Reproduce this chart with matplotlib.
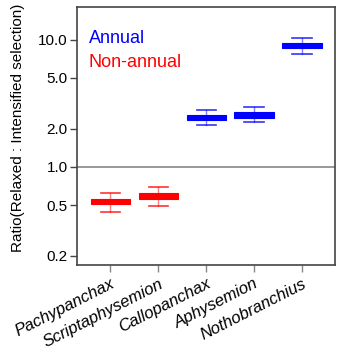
import matplotlib
matplotlib.use("Agg")
import matplotlib.pyplot as plt

plt.rcParams["font.family"] = ["Liberation Sans", "DejaVu Sans"]

genera = ["Pachypanchax", "Scriptaphysemion", "Callopanchax", "Aphysemion", "Nothobranchius"]
annual = [False, False, True, True, True]

# ratio summaries per genus
whisker_lo = [0.44, 0.493, 2.14, 2.25, 7.66]
box_lo = [0.508, 0.563, 2.33, 2.44, 8.54]
median = [0.533, 0.592, 2.45, 2.57, 8.97]
box_hi = [0.560, 0.621, 2.57, 2.70, 9.42]
whisker_hi = [0.621, 0.692, 2.81, 2.95, 10.37]

yticks = [0.2, 0.5, 1.0, 2.0, 5.0, 10.0]

BLUE = "#0000ff"
RED = "#ff0000"

fig = plt.figure(figsize=(3.38, 3.49), dpi=100)
ax = fig.add_axes([0.229, 0.241, 0.762, 0.738])

ax.axhline(1.0, color="#999999", lw=1.4, zorder=1)

for i, name in enumerate(genera):
    c = BLUE if annual[i] else RED
    stats = [{
        "whislo": whisker_lo[i], "q1": box_lo[i], "med": median[i],
        "q3": box_hi[i], "whishi": whisker_hi[i], "fliers": [],
    }]
    ax.bxp(stats, positions=[i + 1], widths=0.82, patch_artist=True,
           showfliers=False,
           boxprops=dict(facecolor=c, edgecolor=c, lw=0.8),
           medianprops=dict(color=c, lw=1),
           whiskerprops=dict(color=c, lw=1, alpha=0.5),
           capprops=dict(color=c, lw=1.2, alpha=0.8),
           capwidths=0.4)

ax.set_yscale("log")
ax.set_ylim(0.17, 17.9)
ax.set_xlim(0.31, 5.69)
ax.set_yticks(yticks)
ax.set_yticklabels([f"{v:.1f}" for v in yticks], fontsize=11)
ax.minorticks_off()
ax.set_xticks(range(1, len(genera) + 1))
ax.set_xticklabels(genera, rotation=27, ha="right", rotation_mode="anchor",
                   fontsize=12, style="italic")

for s in ax.spines.values():
    s.set_color("#444444")
    s.set_linewidth(1.2)
ax.tick_params(axis="y", length=5, width=1, color="#444444", pad=2)
ax.tick_params(axis="x", length=5, width=1, color="#888888", pad=3)

fig.text(0.053, 0.635, "Ratio(Relaxed : Intensified selection)", rotation=90,
         ha="center", va="center", fontsize=11)

ax.text(0.044, 0.86, "Annual", color=BLUE, fontsize=13, transform=ax.transAxes,
        va="baseline")
ax.text(0.044, 0.767, "Non-annual", color=RED, fontsize=13, transform=ax.transAxes,
        va="baseline")

fig.savefig("out.png", dpi=100)
